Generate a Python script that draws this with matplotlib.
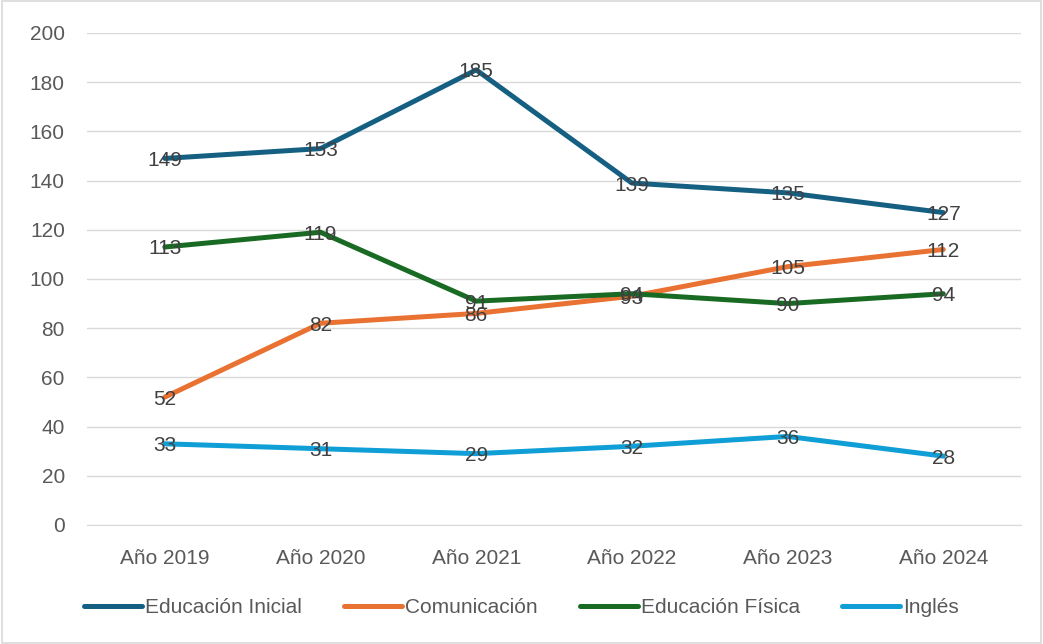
import matplotlib.pyplot as plt
from matplotlib.patches import Rectangle

plt.rcParams["font.family"] = ["Liberation Sans", "DejaVu Sans"]

years = ["Año 2019", "Año 2020", "Año 2021", "Año 2022", "Año 2023", "Año 2024"]
inicial = [149, 153, 185, 139, 135, 127]
comunicacion = [52, 82, 86, 93, 105, 112]
fisica = [113, 119, 91, 94, 90, 94]
ingles = [33, 31, 29, 32, 36, 28]

series = [
    ("Educación Inicial", inicial, "#156082"),
    ("Comunicación", comunicacion, "#E97132"),
    ("Educación Física", fisica, "#196B24"),
    ("Inglés", ingles, "#0F9ED5"),
]

txt = "#404040"
tick_c = "#595959"
fs = 15

fig = plt.figure(figsize=(10.43, 6.44), dpi=100)
ax = fig.add_axes([0.0834, 0.1848, 0.8956, 0.764])

x = range(len(years))
for name, vals, col in series:
    ax.plot(x, vals, color=col, lw=3.6, label=name, solid_capstyle="round", zorder=3)
    for xi, v in zip(x, vals):
        ax.text(xi, v, str(v), ha="center", va="center_baseline", fontsize=fs,
                color=txt, zorder=4)

ax.set_xlim(-0.5, len(years) - 0.5)
ax.set_ylim(0, 200)
ax.set_yticks(range(0, 201, 20))
ax.set_xticks(list(x))
ax.set_xticklabels(years)
ax.grid(axis="y", color="#d9d9d9", lw=1)
ax.set_axisbelow(True)
for s in ["top", "right", "left"]:
    ax.spines[s].set_visible(False)
ax.spines["bottom"].set_color("#d9d9d9")
ax.tick_params(axis="both", length=0, labelsize=fs, colors=tick_c)
ax.tick_params(axis="y", pad=16)
ax.tick_params(axis="x", pad=17)

fig.legend(loc="center", bbox_to_anchor=(0.5, 0.057), ncol=4, frameon=False,
           fontsize=fs, labelcolor=tick_c, handlelength=2.8, handletextpad=0.15,
           columnspacing=2.0)

fig.patches.append(Rectangle((0.002, 0.002), 0.996, 0.996, transform=fig.transFigure,
                             fill=False, edgecolor="#d9d9d9", lw=1.2))

fig.savefig("out.png", dpi=100)
